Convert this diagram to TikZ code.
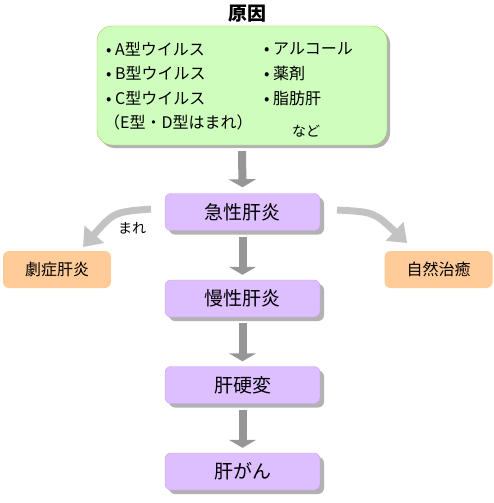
\documentclass[tikz,border=0pt]{standalone}
\usepackage{fontspec}
\setmainfont{Noto Sans CJK JP}
\usepackage{tikz}
\usetikzlibrary{arrows.meta}
\usetikzlibrary{shadows}
\usepackage{xcolor}
\definecolor{causefill}{RGB}{206,253,190}
\definecolor{causeedge}{RGB}{160,205,70}
\definecolor{stagefill}{RGB}{221,190,255}
\definecolor{stageedge}{RGB}{200,160,240}
\definecolor{outfill}{RGB}{255,204,153}
\definecolor{flowgray}{RGB}{150,150,150}
\definecolor{sidegray}{RGB}{195,195,195}

\begin{document}
\begin{tikzpicture}[x=1pt,y=-1pt,
  stage/.style={draw=stageedge, fill=stagefill, rounded corners=6pt, minimum width=155pt, minimum height=37pt, inner sep=0pt, font=\fontsize{19}{19}\selectfont, drop shadow={shadow xshift=4pt, shadow yshift=-4pt, fill=gray!60, opacity=1}},
  outcome/.style={fill=outfill, rounded corners=6pt, minimum width=108pt, minimum height=37pt, inner sep=0pt, font=\fontsize{16}{16}\selectfont},
  item/.style={anchor=west, inner sep=0pt, font=\fontsize{16}{16}\selectfont},
  flow/.style={line width=8pt, draw=flowgray, -{Triangle[width=27pt,length=8pt]}},
  side/.style={line width=7pt, draw=sidegray, -{Triangle[width=25pt,length=17pt]}}]
\useasboundingbox (0,0) rectangle (493,503);
%causes
\node[font=\fontsize{19}{19}\selectfont\bfseries] (title) at (247,14) {原因};
\node[draw=causeedge, fill=causefill, rounded corners=15pt, minimum width=290pt, minimum height=119pt, drop shadow={shadow xshift=3pt, shadow yshift=-3pt, fill=gray!60, opacity=1}] (cause) at (242,85.5) {};
\node[item] (virA) at (106,49) {• A型ウイルス};
\node[item] (virB) at (106,73) {• B型ウイルス};
\node[item] (virC) at (106,98) {• C型ウイルス};
\node[item] (virED) at (104,122) {（E型・D型はまれ）};
\node[item] (alc) at (264,49) {• アルコール};
\node[item] (drug) at (264,73) {• 薬剤};
\node[item] (fat) at (264,98) {• 脂肪肝};
\node[item, font=\fontsize{14}{14}\selectfont] (etc) at (292,131) {など};

%stages
\node[stage] (acute) at (242.5,212) {急性肝炎};
\node[stage] (chronic) at (242.5,298.5) {慢性肝炎};
\node[stage] (cirrhosis) at (242.5,385) {肝硬変};
\node[stage] (cancer) at (242.5,471.5) {肝がん};

%outcomes
\node[outcome] (fulminant) at (57,269.5) {劇症肝炎};
\node[outcome] (healed) at (438.5,269.5) {自然治癒};

%arrows
\draw[flow] ([yshift=-6pt]cause.south) -- ([yshift=6pt]acute.north);
\draw[flow] ([yshift=-6pt]acute.south) -- ([yshift=5pt]chronic.north);
\draw[flow] ([yshift=-6pt]chronic.south) -- ([yshift=5pt]cirrhosis.north);
\draw[flow] ([yshift=-6pt]cirrhosis.south) -- ([yshift=5pt]cancer.north);

\coordinate (rareS) at (151,209);
\coordinate (rareE) at (83,247);
\coordinate (healS) at (337,210);
\coordinate (healE) at (407,243);
\draw[side] (rareS) .. controls (114,212) .. (rareE);
\draw[side] (healS) .. controls (374,212) .. (healE);
\node[font=\fontsize{14}{14}\selectfont] (rare) at (132,228) {まれ};
\end{tikzpicture}
\end{document}
